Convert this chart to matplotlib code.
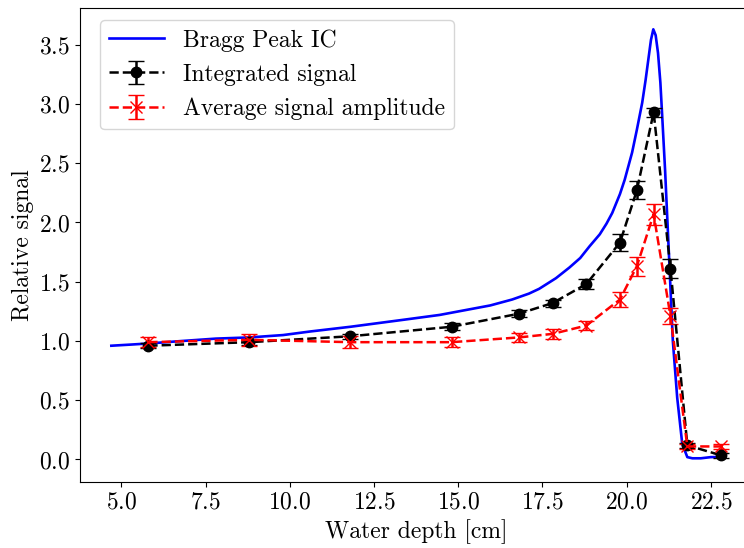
import numpy as np
import matplotlib
matplotlib.use("Agg")
import matplotlib.pyplot as plt

plt.rcParams["font.family"] = "serif"
plt.rcParams["font.serif"] = ["cmr10"]
plt.rcParams["mathtext.fontset"] = "cm"
plt.rcParams["axes.formatter.use_mathtext"] = True
plt.rcParams["font.size"] = 17

# ── Bragg peak ionisation chamber curve ─────────────────────────────
ic_depth = [4.70, 5.30, 5.86, 6.80, 7.80, 8.80, 9.80, 10.60, 11.20, 11.80,
            12.60, 13.40, 14.45, 15.20, 15.95, 16.60, 17.10, 17.40, 17.90,
            18.30, 18.62, 18.90, 19.20, 19.40, 19.57, 19.80, 19.94, 20.16,
            20.30, 20.46, 20.56, 20.64, 20.72, 20.79, 20.86, 20.93, 21.00,
            21.05, 21.14, 21.23, 21.28, 21.37, 21.50, 21.65, 21.80, 21.95,
            22.20, 22.50, 22.75]
ic_signal = [0.96, 0.97, 0.98, 1.00, 1.02, 1.03, 1.05, 1.08, 1.10, 1.12,
             1.15, 1.18, 1.22, 1.26, 1.30, 1.35, 1.40, 1.44, 1.53,
             1.62, 1.70, 1.80, 1.90, 1.99, 2.08, 2.24, 2.36, 2.59,
             2.78, 3.01, 3.20, 3.37, 3.54, 3.63, 3.58, 3.43, 3.18,
             2.92, 2.44, 1.88, 1.57, 1.00, 0.52, 0.13, 0.02, 0.01,
             0.01, 0.02, 0.02]

# ── measured points ─────────────────────────────────────────────────
depth = [5.8, 8.8, 11.8, 14.8, 16.8, 17.8, 18.8, 19.8, 20.3, 20.8, 21.3, 21.8, 22.8]

integ = [0.96, 0.99, 1.04, 1.12, 1.23, 1.32, 1.48, 1.83, 2.27, 2.93, 1.61, 0.12, 0.035]
integ_err = [0.02, 0.02, 0.02, 0.03, 0.03, 0.03, 0.045, 0.07, 0.076, 0.04, 0.08, 0.02, 0.02]

ampl = [0.99, 1.01, 0.99, 0.99, 1.03, 1.06, 1.13, 1.35, 1.63, 2.07, 1.21, 0.11, 0.11]
ampl_err = [0.04, 0.05, 0.05, 0.04, 0.04, 0.04, 0.035, 0.06, 0.08, 0.09, 0.065, 0.02, 0.02]

fig = plt.figure(figsize=(7.44, 5.48), dpi=100)
# right spine lies just outside the saved picture, as in the original
ax = fig.add_axes([80 / 744, 66 / 548, 672 / 744, 474 / 548])

ax.plot(ic_depth, ic_signal, color="blue", lw=1.9, label="Bragg Peak IC")
ax.errorbar(depth, integ, yerr=integ_err, fmt="o--", color="black",
            capsize=6, lw=1.8, ms=7.5, label="Integrated signal")
ax.errorbar(depth, ampl, yerr=ampl_err, fmt="x--", color="red",
            capsize=6, lw=1.8, ms=9, label="Average signal amplitude")

ax.set_xlim(3.77, 23.72)
ax.set_ylim(-0.19, 3.81)
ax.set_xticks(np.arange(5.0, 23.0, 2.5))
ax.set_yticks(np.arange(0.0, 3.6, 0.5))
ax.set_xlabel("Water depth [cm]")
ax.set_ylabel("Relative signal")
ax.legend(loc="upper left", bbox_to_anchor=(0.012, 1.0), handlelength=2.3)

fig.savefig("out.png", dpi=100)
